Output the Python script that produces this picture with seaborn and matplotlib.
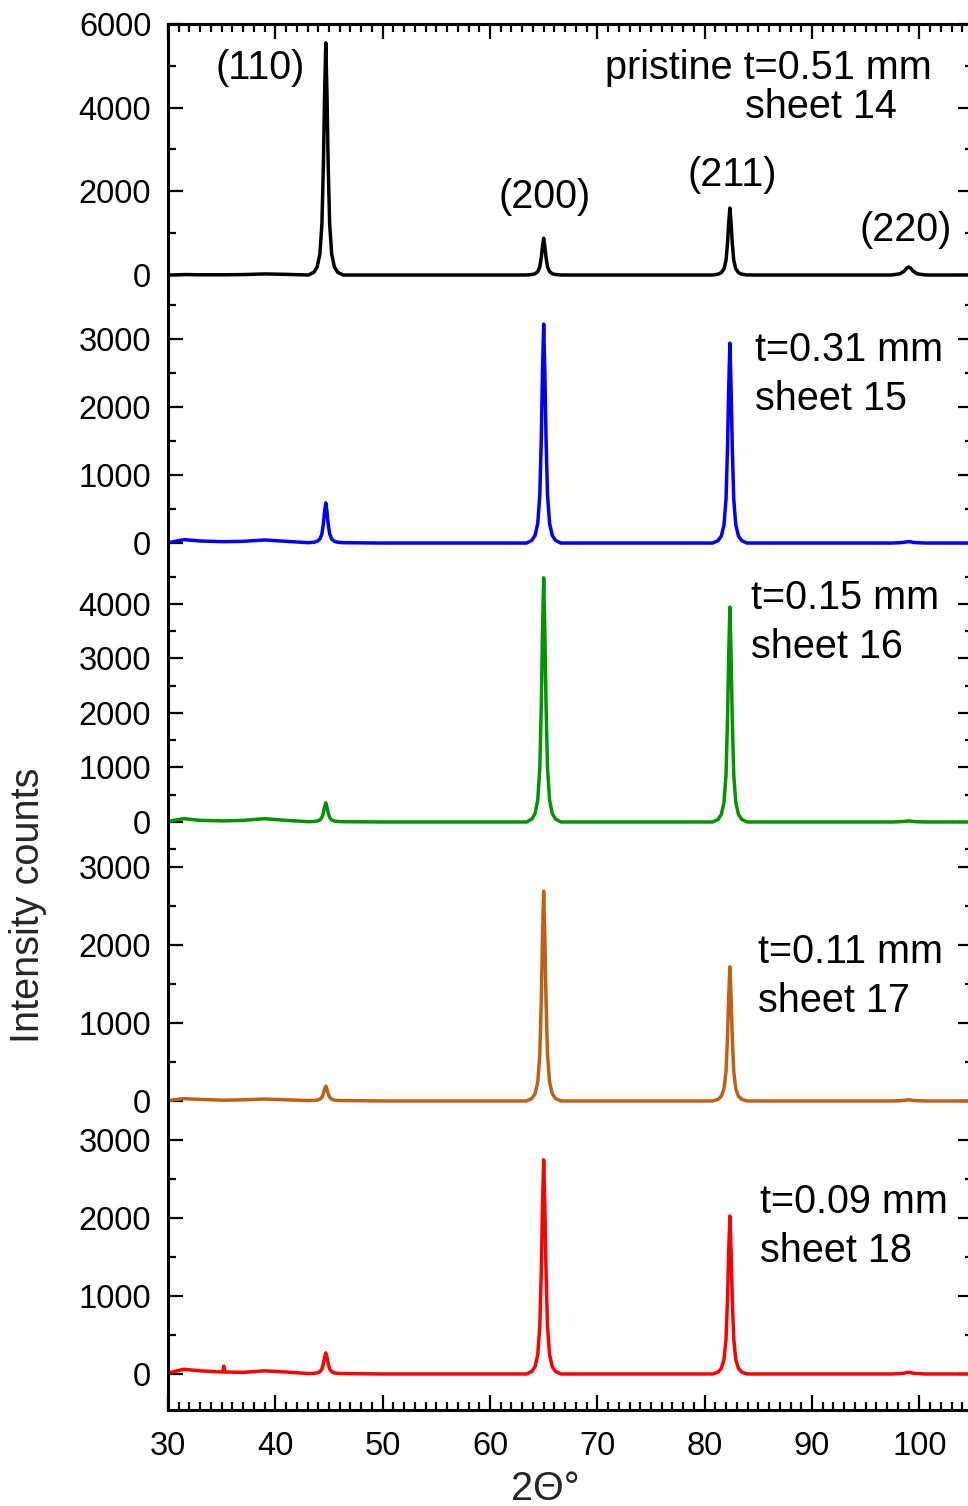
import numpy as np
import pandas as pd
import matplotlib
matplotlib.use("Agg")
import matplotlib.pyplot as plt
from matplotlib.ticker import MultipleLocator
import seaborn as sns

# shared 2-theta grid (deg): baseline points + points across each reflection
two_theta = [30.0, 30.5, 31.5, 33.0, 35.1, 35.2, 35.3, 37.0, 39.0, 41.0,
             43.1, 43.6, 43.9, 44.15, 44.34, 44.48, 44.59, 44.7, 44.81, 44.92, 45.06, 45.25, 45.5, 45.8, 46.3,
             50.0, 55.0, 60.0,
             63.4, 63.9, 64.2, 64.45, 64.64, 64.78, 64.89, 65.0, 65.11, 65.22, 65.36, 65.55, 65.8, 66.1, 66.6,
             70.0, 75.0, 80.0,
             80.75, 81.25, 81.55, 81.8, 81.99, 82.13, 82.24, 82.35, 82.46, 82.57, 82.71, 82.9, 83.15, 83.45, 83.95,
             87.0, 92.0,
             97.4, 98.2, 98.6, 98.8, 99.0, 99.2, 99.4, 99.8, 100.6,
             105.0]

sheet14 = [0, 0, 10, 5, 5, 5, 5, 10, 25, 15,
           0, 67, 194, 500, 1221, 2664, 4329, 5550, 4329, 2664, 1221, 500, 194, 67, 0,
           0, 0, 0,
           0, 11, 31, 79, 194, 422, 686, 880, 686, 422, 194, 79, 31, 11, 0,
           0, 0, 0,
           0, 19, 56, 144, 352, 768, 1248, 1600, 1248, 768, 352, 144, 56, 19, 0,
           0, 0,
           0, 28, 95, 160, 190, 160, 95, 28, 0,
           0]

sheet15 = [0, 20, 50, 30, 20, 20, 20, 25, 45, 25,
           5, 12, 26, 58, 135, 288, 465, 590, 465, 288, 135, 58, 26, 12, 5,
           0, 0, 0,
           0, 39, 113, 290, 708, 1546, 2512, 3220, 2512, 1546, 708, 290, 113, 39, 0,
           0, 0, 0,
           0, 35, 103, 265, 647, 1411, 2293, 2940, 2293, 1411, 647, 265, 103, 35, 0,
           0, 0,
           0, 5, 10, 18, 20, 18, 10, 5, 0,
           0]

sheet16 = [0, 30, 60, 30, 20, 20, 20, 30, 60, 30,
           5, 9, 17, 37, 82, 173, 278, 350, 278, 173, 82, 37, 17, 9, 5,
           0, 0, 0,
           0, 54, 157, 403, 986, 2150, 3494, 4480, 3494, 2150, 986, 403, 157, 54, 0,
           0, 0, 0,
           0, 47, 138, 355, 868, 1894, 3077, 3945, 3077, 1894, 868, 355, 138, 47, 0,
           0, 0,
           0, 5, 10, 15, 20, 15, 10, 5, 0,
           0]

sheet17 = [0, 15, 30, 20, 10, 10, 10, 15, 25, 15,
           5, 7, 11, 22, 47, 96, 153, 190, 153, 96, 47, 22, 11, 7, 5,
           0, 0, 0,
           0, 32, 94, 242, 592, 1291, 2098, 2690, 2098, 1291, 592, 242, 94, 32, 0,
           0, 0, 0,
           0, 21, 60, 155, 378, 826, 1342, 1720, 1342, 826, 378, 155, 60, 21, 0,
           0, 0,
           0, 3, 8, 12, 15, 12, 8, 3, 0,
           0]

sheet18 = [0, 30, 60, 40, 25, 100, 25, 20, 40, 25,
           5, 8, 14, 29, 64, 135, 216, 270, 216, 135, 64, 29, 14, 8, 5,
           0, 0, 0,
           0, 33, 96, 247, 604, 1318, 2141, 2745, 2141, 1318, 604, 247, 96, 33, 0,
           0, 0, 0,
           0, 24, 71, 182, 446, 972, 1580, 2025, 1580, 972, 446, 182, 71, 24, 0,
           0, 0,
           0, 5, 10, 18, 20, 18, 10, 5, 0,
           0]

series = [sheet14, sheet15, sheet16, sheet17, sheet18]
colors = ["black", "#0000FF", "#009600", "#C06010", "#FF0000"]
sample_labels = [("pristine t=0.51 mm", "sheet 14"), ("t=0.31 mm", "sheet 15"),
                 ("t=0.15 mm", "sheet 16"), ("t=0.11 mm", "sheet 17"),
                 ("t=0.09 mm", "sheet 18")]
hkl_labels = ["(110)", "(200)", "(211)", "(220)"]

# y ranges and tick steps of each stacked panel
ylims = [(-598, 6000), (-470, 3574), (-661, 4532), (-244, 3115), (-462, 3256)]
major_steps = [2000, 1000, 1000, 1000, 1000]
minor_steps = [1000, 500, 500, 500, 500]

sns.set_theme(style="ticks")
plt.rcParams["font.family"] = ["Liberation Sans", "DejaVu Sans"]

W, H = 968, 1506
fig = plt.figure(figsize=(W / 100, H / 100), dpi=100)

# panel edges in pixels (top of first, shared boundaries, bottom of last)
edges = [24, 300, 575, 858, 1120, 1410]
left_px, right_px = 168, 973


def fx(px):
    return px / W


def fy(py):
    return 1 - py / H


axes = []
for i in range(5):
    top, bot = edges[i], edges[i + 1]
    ax = fig.add_axes([fx(left_px), fy(bot), (right_px - left_px) / W, (bot - top) / H])
    ax.patch.set_alpha(0)
    df = pd.DataFrame({"x": two_theta, "y": series[i]})
    sns.lineplot(data=df, x="x", y="y", ax=ax, color=colors[i], linewidth=2.5,
                 estimator=None, sort=False)
    ax.set_xlim(30, 105)
    ax.set_ylim(*ylims[i])
    ax.set_xlabel("")
    ax.set_ylabel("")
    ax.yaxis.set_major_locator(MultipleLocator(major_steps[i]))
    ax.yaxis.set_minor_locator(MultipleLocator(minor_steps[i]))
    ax.xaxis.set_major_locator(MultipleLocator(10))
    ax.xaxis.set_minor_locator(MultipleLocator(1))
    for s in ax.spines.values():
        s.set_linewidth(2.2)
        s.set_color("black")
    ax.spines["top"].set_visible(i == 0)
    ax.spines["bottom"].set_visible(i == 4)
    ax.tick_params(axis="y", which="both", direction="in", left=True, right=True,
                   labelsize=23.5, width=1.6, colors="black", pad=12)
    ax.tick_params(axis="y", which="major", length=11)
    ax.tick_params(axis="y", which="minor", length=6)
    ax.tick_params(axis="x", which="both", direction="in", top=(i == 0), bottom=(i == 4),
                   labelbottom=(i == 4), labeltop=False, labelsize=23.5, width=1.6,
                   colors="black", pad=15)
    ax.tick_params(axis="x", which="major", length=11)
    ax.tick_params(axis="x", which="minor", length=6)
    axes.append(ax)

# sample annotations (pixel positions)
txt = dict(fontsize=28.5, color="black", va="center")
sample_pos = [((605, 68), (745, 107)), ((755, 350), (755, 399)), ((751, 598), (751, 647)),
              ((758, 952), (758, 1001)), ((760, 1202), (760, 1251))]
for (l1, l2), ((x1, y1), (x2, y2)) in zip(sample_labels, sample_pos):
    fig.text(fx(x1), fy(y1), l1, ha="left", **txt)
    fig.text(fx(x2), fy(y2), l2, ha="left", **txt)

hkl_pos = [(260, 68), (545, 197), (732, 175), (906, 230)]
for lab, (x, y) in zip(hkl_labels, hkl_pos):
    fig.text(fx(x), fy(y), lab, ha="center", **txt)

fig.text(fx(545), fy(1489), "2\u0398\u00b0", ha="center", va="center", fontsize=28.5)
fig.text(fx(28), fy(905), "Intensity counts", ha="center", va="center",
         rotation=90, fontsize=28.5)

fig.savefig("out.png", dpi=100)
